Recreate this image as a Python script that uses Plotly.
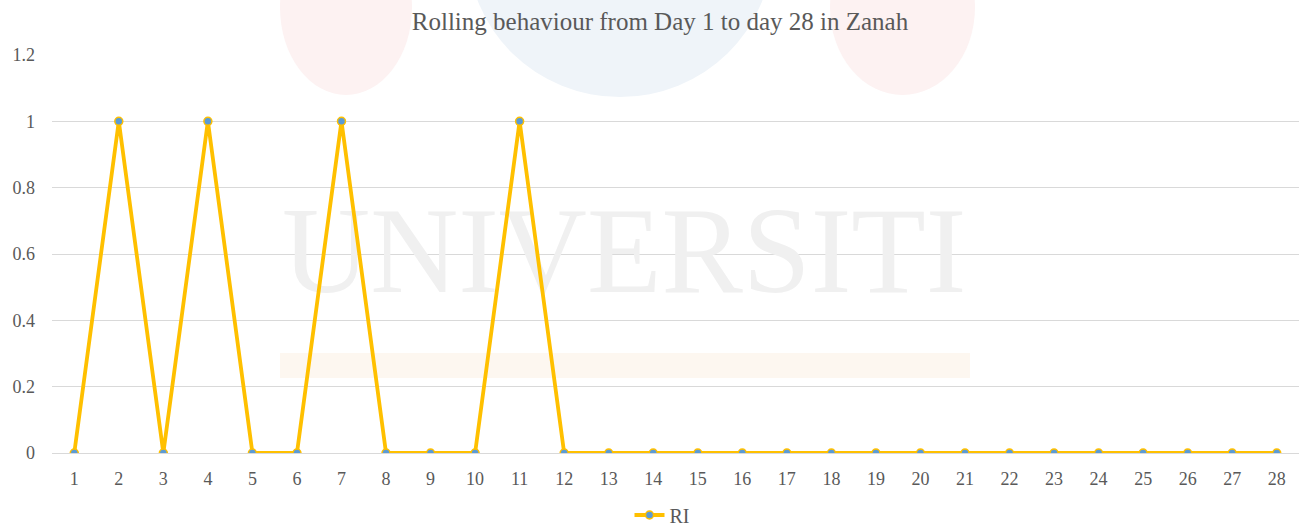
import plotly.graph_objects as go

days = list(range(1, 29))
day_labels = [str(d) for d in days]
ri_values = [0, 1, 0, 1, 0, 0, 1, 0, 0, 0, 1, 0, 0, 0, 0, 0, 0, 0, 0, 0, 0, 0, 0, 0, 0, 0, 0, 0]
y_ticks = [0, 0.2, 0.4, 0.6, 0.8, 1, 1.2]
y_tick_labels = ["0", "0.2", "0.4", "0.6", "0.8", "1", "1.2"]

FONT = "Liberation Serif"
GREY = "#595959"

W, H = 1302, 527
L, R, T, B = 52, 3, 55, 74
pw, ph = W - L - R, H - T - B

def px(x):
    return (x - L) / pw

def py(y):
    return (H - B - y) / ph

fig = go.Figure()
# faint background watermark word, drawn first so it sits beneath the data line
fig.add_trace(go.Scatter(
    x=[13.35], y=[0.576], mode="text", text=["UNIVERSITI"],
    textfont=dict(family=FONT, size=122, color="#f0f0f0"),
    showlegend=False, hoverinfo="skip",
))
fig.add_trace(go.Scatter(
    x=days, y=ri_values, mode="lines+markers", name="RI",
    line=dict(color="#FFC000", width=3.8),
    marker=dict(color="#5B9BD5", size=8, line=dict(color="#FFC000", width=1.5)),
))

shapes = [
    dict(type="circle", xref="paper", yref="paper", layer="below",
         x0=px(280), x1=px(412), y0=py(95), y1=py(-80),
         fillcolor="#fdf2f2", line=dict(width=0)),
    dict(type="circle", xref="paper", yref="paper", layer="below",
         x0=px(468), x1=px(772), y0=py(97), y1=py(-200),
         fillcolor="#eff4f9", line=dict(width=0)),
    dict(type="circle", xref="paper", yref="paper", layer="below",
         x0=px(830), x1=px(975), y0=py(95), y1=py(-80),
         fillcolor="#fdf2f2", line=dict(width=0)),
    dict(type="rect", xref="paper", yref="paper", layer="below",
         x0=px(280), x1=px(970), y0=py(378), y1=py(353),
         fillcolor="#fdf7f0", line=dict(width=0)),
]

fig.update_layout(
    width=W, height=H,
    margin=dict(l=L, r=R, t=T, b=B, autoexpand=False),
    paper_bgcolor="white", plot_bgcolor="rgba(0,0,0,0)",
    title=dict(text="Rolling behaviour from Day 1 to day 28 in Zanah",
               x=px(660), xref="paper", xanchor="center", y=1 - 21 / H, yanchor="middle",
               font=dict(family=FONT, size=25, color=GREY)),
    font=dict(family=FONT, size=18, color=GREY),
    xaxis=dict(range=[0.5, 28.5], tickvals=days, ticktext=day_labels, showgrid=False,
               zeroline=False, showline=True, linecolor="#d9d9d9", linewidth=1,
               ticks="", tickfont=dict(family=FONT, size=18, color=GREY), ticklabelstandoff=9),
    yaxis=dict(range=[0, 1.2], tickvals=y_ticks, ticktext=y_tick_labels,
               showgrid=True, gridcolor="#d9d9d9", gridwidth=1, zeroline=False,
               showline=False, ticks="", ticklabelstandoff=16,
               tickfont=dict(family=FONT, size=18, color=GREY)),
    showlegend=True,
    legend=dict(orientation="h", x=px(662), xanchor="center", xref="paper",
                y=py(515), yanchor="middle", font=dict(family=FONT, size=20, color=GREY),
                bgcolor="rgba(0,0,0,0)", borderwidth=0),
    shapes=shapes,
)

fig.write_html("out.html", config={"displayModeBar": False},
               post_script="document.body.style.margin='0';")
